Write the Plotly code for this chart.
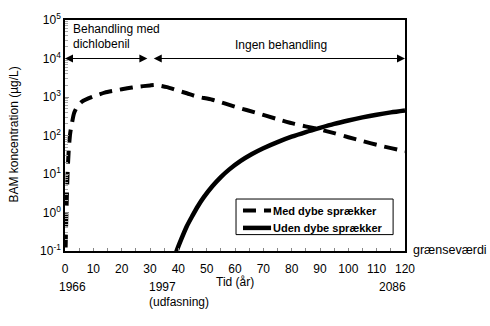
import plotly.graph_objects as go

# Years since start of treatment (1966) and BAM concentration in µg/L
t_med = [0.0, 0.2, 0.5, 0.9, 1.3, 1.8, 2.4, 3.2, 4.1, 6.0, 10.0, 14.0, 18.2, 22.0,
         25.3, 30.0, 32.0, 36.0, 39.4, 43.0, 46.5, 52.0, 61.2, 67.0, 74.7, 81.0,
         88.8, 95.0, 100.0, 105.0, 111.0, 119.4, 120.0]
c_med = [0.01, 0.1, 1.0, 10.0, 40.0, 110.0, 200.0, 380.0, 525.0, 760.0, 1030.0, 1300.0,
         1500.0, 1680.0, 1830.0, 2000.0, 2050.0, 1800.0, 1500.0, 1250.0, 1025.0, 850.0,
         525.0, 400.0, 270.0, 200.0, 150.0, 115.0, 90.0, 72.0, 55.0, 40.0, 39.0]

t_uden = [39.0, 39.4, 41.0, 43.0, 45.0, 47.0, 49.0, 52.0, 55.0, 58.0, 62.0, 66.0,
          70.0, 75.0, 80.0, 85.0, 90.0, 95.0, 100.0, 105.0, 110.0, 115.0, 120.0]
c_uden = [0.08, 0.1, 0.2, 0.44, 0.83, 1.5, 2.5, 4.8, 8.3, 13.2, 21.9, 33.1,
          46.8, 67.6, 93.3, 123.0, 158.0, 200.0, 245.0, 295.0, 347.0, 398.0, 447.0]

series_names = ["Med dybe sprækker", "Uden dybe sprækker"]

y_tickvals = [0.1, 1, 10, 100, 1000, 10000, 100000]
y_ticktext = ["10<sup>-1</sup>", "10<sup>0</sup>", "10<sup>1</sup>", "10<sup>2</sup>",
              "10<sup>3</sup>", "10<sup>4</sup>", "10<sup>5</sup>"]
x_tickvals = list(range(0, 121, 10))

FONT = "Arial, Liberation Sans, sans-serif"
DASH = "13px,8px"

fig = go.Figure()
fig.add_trace(go.Scatter(
    x=t_med, y=c_med, mode="lines", name=series_names[0],
    line=dict(color="black", width=4, dash=DASH, shape="spline", smoothing=0.6)))
fig.add_trace(go.Scatter(
    x=t_uden, y=c_uden, mode="lines", name=series_names[1],
    line=dict(color="black", width=4.5, shape="spline", smoothing=0.8)))

fig.update_xaxes(
    range=[0, 120], tickvals=x_tickvals, ticks="inside", ticklen=3, tickcolor="#888",
    showline=True, linecolor="black", linewidth=1.5, mirror=True,
    showgrid=False, zeroline=False, ticklabelstandoff=6,
    tickfont=dict(family=FONT, size=12, color="black"),
    minor=dict(dtick=5, ticks="inside", ticklen=3, tickcolor="#888", showgrid=False))
fig.update_yaxes(
    type="log", range=[-1, 5], tickvals=y_tickvals, ticktext=y_ticktext,
    ticks="inside", ticklen=4, tickcolor="#888",
    showline=True, linecolor="black", linewidth=1.5, mirror=True,
    showgrid=False, zeroline=False,
    tickfont=dict(family=FONT, size=12, color="black"),
    minor=dict(dtick="D1", ticks="inside", ticklen=3, tickcolor="#aaa", showgrid=False))

# Treatment period arrows along 10^4
arrow = dict(xref="x", yref="y", axref="x", ayref="y", text="", showarrow=True,
             arrowhead=2, arrowside="end+start", arrowsize=1.6, arrowwidth=1,
             arrowcolor="black", standoff=0, startstandoff=0)
fig.add_annotation(x=0, y=4, ax=29.6, ay=4, **arrow)
fig.add_annotation(x=120, y=4, ax=30.8, ay=4, **arrow)

def label(text, x, y, xanchor="left", size=12, angle=0, bold=False):
    fig.add_annotation(x=x, y=y, xref="paper", yref="paper",
                       text=f"<b>{text}</b>" if bold else text,
                       showarrow=False, xanchor=xanchor, yanchor="middle",
                       textangle=angle, borderpad=0,
                       font=dict(family=FONT, size=size, color="black"))

label("Behandling med", 0.022, 0.9625)
label("dichlobenil", 0.022, 0.896)
label("Ingen behandling", 0.635, 0.892, xanchor="center")
label("Tid (år)", 0.5, -0.133, xanchor="center")
label("1966", 0.022, -0.154, xanchor="center")
label("1997", 0.244, -0.154)
label("(udfasning)", 0.244, -0.221)
label("2086", 0.963, -0.154, xanchor="center")
label("grænseværdi", 1.02, 0.004, size=12.5)
label("BAM koncentration (µg/L)", -0.15, 0.504, xanchor="center", angle=-90)

# Legend box in the lower right of the plot area
fig.add_shape(type="rect", xref="paper", yref="paper",
              x0=0.503, x1=0.965, y0=0.071, y1=0.225,
              line=dict(color="black", width=1), fillcolor="white", layer="above")
for i, (yy, dash, w) in enumerate([(0.175, DASH, 4), (0.1, "solid", 4.5)]):
    fig.add_shape(type="line", xref="paper", yref="paper",
                  x0=0.5235, x1=0.606, y0=yy, y1=yy,
                  line=dict(color="black", width=w, dash=dash), layer="above")
    label(series_names[i], 0.609, yy, size=11, bold=True)

fig.update_layout(
    width=490, height=326,
    margin=dict(l=65, r=85, t=11, b=75),
    plot_bgcolor="white", paper_bgcolor="white",
    showlegend=False,
)

fig.write_html("out.html")
